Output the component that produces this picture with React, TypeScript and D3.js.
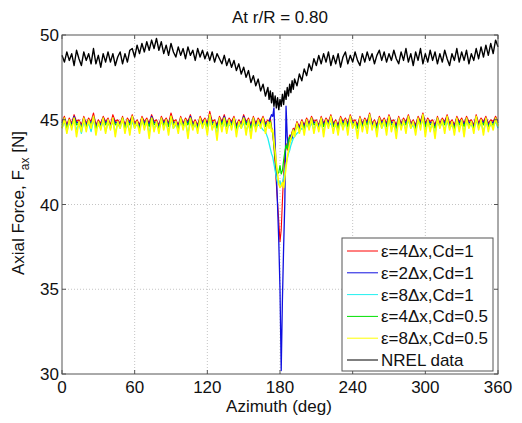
import React, { useEffect, useRef } from "react";
import * as d3 from "d3";

// azimuth grid (deg), finer around the tower passage
const azimuth = [
  0, 2, 4, 6, 8, 10, 12, 14, 16, 18,
  20, 22, 24, 26, 28, 30, 32, 34, 36, 38,
  40, 42, 44, 46, 48, 50, 52, 54, 56, 58,
  60, 62, 64, 66, 68, 70, 72, 74, 76, 78,
  80, 82, 84, 86, 88, 90, 92, 94, 96, 98,
  100, 102, 104, 106, 108, 110, 112, 114, 116, 118,
  120, 122, 124, 126, 128, 130, 132, 134, 136, 138,
  140, 142, 144, 146, 148, 150, 152, 154, 156, 158,
  160, 162, 164, 166, 168, 170,
  171, 172, 173, 174, 175, 176, 177, 178, 179, 180, 181, 182, 183, 184, 185, 186, 187, 188, 189, 190, 191,
  192, 194, 196, 198, 200, 202, 204, 206, 208, 210,
  212, 214, 216, 218, 220, 222, 224, 226, 228, 230,
  232, 234, 236, 238, 240, 242, 244, 246, 248, 250,
  252, 254, 256, 258, 260, 262, 264, 266, 268, 270,
  272, 274, 276, 278, 280, 282, 284, 286, 288, 290,
  292, 294, 296, 298, 300, 302, 304, 306, 308, 310,
  312, 314, 316, 318, 320, 322, 324, 326, 328, 330,
  332, 334, 336, 338, 340, 342, 344, 346, 348, 350,
  352, 354, 356, 358, 360,
];

// eps=4dx, Cd=1
const red = [
  44.9, 45.2, 44.7, 45.1, 44.8, 45.3, 44.9, 45.0, 44.7, 45.2,
  44.8, 45.1, 44.9, 45.4, 44.7, 45.0, 44.8, 45.2, 44.9, 45.1,
  44.7, 45.3, 44.9, 45.0, 44.8, 45.2, 44.7, 45.1, 44.9, 45.3,
  44.8, 45.0, 44.7, 45.2, 44.9, 45.1, 44.8, 45.3, 44.9, 45.0,
  44.7, 45.2, 44.9, 45.1, 44.8, 45.4, 44.9, 45.0, 44.7, 45.2,
  44.8, 45.1, 44.9, 45.3, 44.8, 45.0, 44.7, 45.2, 44.9, 45.1,
  44.8, 45.5, 44.9, 45.0, 44.7, 45.2, 44.9, 45.3, 44.8, 45.1,
  44.9, 45.2, 44.7, 45.0, 44.8, 45.3, 44.9, 45.1, 44.7, 45.2,
  44.8, 45.1, 44.9, 45.2, 44.8, 45.0,
  44.9, 45.1, 44.6, 44.2, 43.4, 42.3, 41.2, 40.1, 39.0, 37.8, 38.5, 40.2, 41.8, 42.9, 43.6, 43.2, 43.8, 44.1, 43.9, 44.3, 44.5,
  44.4, 44.9, 44.6, 45.0, 44.7, 45.1, 44.8, 45.2, 44.9, 45.0,
  44.7, 45.2, 44.8, 45.1, 44.9, 45.3, 44.8, 45.0, 44.7, 45.2,
  44.9, 45.1, 44.8, 45.3, 44.9, 45.0, 44.7, 45.2, 44.8, 45.1,
  44.9, 45.4, 44.8, 45.0, 44.7, 45.2, 44.9, 45.1, 44.8, 45.3,
  44.9, 45.0, 44.7, 45.2, 44.8, 45.1, 44.9, 45.3, 44.8, 45.0,
  44.7, 45.2, 44.9, 45.4, 44.8, 45.1, 44.9, 45.0, 44.7, 45.2,
  44.8, 45.1, 44.9, 45.3, 44.8, 45.0, 44.7, 45.2, 44.9, 45.1,
  44.8, 45.2, 44.9, 45.0, 44.7, 45.3, 44.8, 45.1, 44.9, 45.2,
  44.8, 45.0, 44.9, 45.2, 44.9,
];

// eps=2dx, Cd=1
const blue = [
  44.8, 45.1, 44.6, 45.0, 44.7, 45.2, 44.8, 44.9, 44.6, 45.1,
  44.7, 45.0, 44.8, 45.2, 44.6, 44.9, 44.7, 45.1, 44.8, 45.0,
  44.6, 45.1, 44.8, 44.9, 44.7, 45.1, 44.6, 45.0, 44.8, 45.2,
  44.7, 44.9, 44.6, 45.1, 44.8, 45.0, 44.7, 45.2, 44.8, 44.9,
  44.6, 45.1, 44.8, 45.0, 44.7, 45.2, 44.8, 44.9, 44.6, 45.1,
  44.7, 45.0, 44.8, 45.2, 44.7, 44.9, 44.6, 45.1, 44.8, 45.0,
  44.7, 45.3, 44.8, 44.9, 44.6, 45.1, 44.8, 45.2, 44.7, 45.0,
  44.8, 45.1, 44.6, 44.9, 44.7, 45.2, 44.8, 45.0, 44.6, 45.1,
  44.7, 45.0, 44.8, 45.1, 44.7, 44.9,
  44.9, 45.1, 45.3, 45.2, 45.7, 43.6, 41.8, 39.9, 37.8, 35.0, 30.2, 34.4, 37.5, 40.2, 45.8, 44.0, 43.2, 43.7, 44.1, 43.9, 44.4,
  44.3, 44.8, 44.5, 44.9, 44.6, 45.0, 44.7, 45.1, 44.8, 44.9,
  44.6, 45.1, 44.7, 45.0, 44.8, 45.2, 44.7, 44.9, 44.6, 45.1,
  44.8, 45.0, 44.7, 45.2, 44.8, 44.9, 44.6, 45.1, 44.7, 45.0,
  44.8, 45.3, 44.7, 44.9, 44.6, 45.1, 44.8, 45.0, 44.7, 45.2,
  44.8, 44.9, 44.6, 45.1, 44.7, 45.0, 44.8, 45.2, 44.7, 44.9,
  44.6, 45.1, 44.8, 45.3, 44.7, 45.0, 44.8, 44.9, 44.6, 45.1,
  44.7, 45.0, 44.8, 45.2, 44.7, 44.9, 44.6, 45.1, 44.8, 45.0,
  44.7, 45.1, 44.8, 44.9, 44.6, 45.2, 44.7, 45.0, 44.8, 45.1,
  44.7, 44.9, 44.8, 45.1, 44.8,
];

// eps=8dx, Cd=1
const cyan = [
  44.5, 44.9, 44.3, 44.8, 44.6, 45.0, 44.4, 44.8, 44.2, 44.9,
  44.5, 44.8, 44.3, 45.0, 44.4, 44.7, 44.5, 44.9, 44.3, 44.8,
  44.6, 44.9, 44.2, 44.8, 44.5, 45.0, 44.4, 44.7, 44.3, 44.9,
  44.5, 44.8, 44.4, 44.9, 44.6, 44.8, 44.2, 45.0, 44.5, 44.7,
  44.4, 44.9, 44.6, 44.8, 44.3, 45.0, 44.5, 44.7, 44.4, 44.9,
  44.6, 44.8, 44.2, 44.9, 44.5, 44.7, 44.4, 44.9, 44.6, 44.8,
  44.3, 45.0, 44.5, 44.7, 44.2, 44.9, 44.5, 44.8, 44.4, 44.7,
  44.6, 44.9, 44.3, 44.7, 44.5, 44.8, 44.4, 44.7, 44.2, 44.8,
  44.5, 44.7, 44.6, 44.4, 44.3, 43.9,
  43.6, 43.3, 43.0, 42.8, 42.4, 42.0, 41.6, 41.3, 41.2, 41.4, 41.1, 41.3, 41.6, 42.0, 42.4, 42.7, 43.0, 43.2, 43.5, 43.7, 43.9,
  44.0, 44.2, 44.3, 44.5, 44.4, 44.7, 44.5, 44.8, 44.4, 44.9,
  44.5, 44.8, 44.3, 44.9, 44.6, 44.8, 44.4, 44.7, 44.3, 44.9,
  44.5, 44.8, 44.4, 45.0, 44.6, 44.7, 44.2, 44.9, 44.5, 44.8,
  44.4, 45.0, 44.6, 44.7, 44.3, 44.9, 44.5, 44.8, 44.4, 44.9,
  44.5, 44.7, 44.3, 44.9, 44.6, 44.8, 44.4, 45.0, 44.5, 44.7,
  44.3, 44.9, 44.6, 45.0, 44.4, 44.8, 44.5, 44.7, 44.2, 44.9,
  44.6, 44.8, 44.4, 44.9, 44.5, 44.7, 44.3, 44.9, 44.5, 44.8,
  44.3, 44.9, 44.6, 44.7, 44.4, 45.0, 44.5, 44.8, 44.3, 44.9,
  44.5, 44.7, 44.6, 44.9, 44.5,
];

// eps=4dx, Cd=0.5
const green = [
  44.7, 45.0, 44.5, 44.9, 44.6, 45.1, 44.7, 44.8, 44.5, 45.0,
  44.6, 44.9, 44.7, 45.1, 44.5, 44.8, 44.6, 45.0, 44.7, 44.9,
  44.5, 45.0, 44.7, 44.8, 44.6, 45.1, 44.5, 44.9, 44.7, 45.1,
  44.6, 44.8, 44.5, 45.0, 44.7, 44.9, 44.6, 45.1, 44.7, 44.8,
  44.5, 45.0, 44.7, 44.9, 44.6, 45.2, 44.7, 44.8, 44.5, 45.0,
  44.6, 44.9, 44.7, 45.1, 44.6, 44.8, 44.5, 45.0, 44.7, 44.9,
  44.6, 45.2, 44.7, 44.8, 44.5, 45.0, 44.7, 45.1, 44.6, 44.9,
  44.7, 45.0, 44.5, 44.8, 44.6, 45.1, 44.7, 44.9, 44.5, 45.0,
  44.6, 44.9, 44.7, 45.0, 44.6, 44.8,
  44.7, 44.9, 44.5, 44.2, 43.5, 42.8, 42.2, 41.8, 41.9, 42.3, 41.8, 42.0, 42.6, 43.1, 43.5, 43.3, 43.8, 44.0, 43.8, 44.2, 44.4,
  44.2, 44.7, 44.4, 44.8, 44.5, 44.9, 44.6, 45.0, 44.7, 44.8,
  44.5, 45.0, 44.6, 44.9, 44.7, 45.1, 44.6, 44.8, 44.5, 45.0,
  44.7, 44.9, 44.6, 45.1, 44.7, 44.8, 44.5, 45.0, 44.6, 44.9,
  44.7, 45.2, 44.6, 44.8, 44.5, 45.0, 44.7, 44.9, 44.6, 45.1,
  44.7, 44.8, 44.5, 45.0, 44.6, 44.9, 44.7, 45.1, 44.6, 44.8,
  44.5, 45.0, 44.7, 45.2, 44.6, 44.9, 44.7, 44.8, 44.5, 45.0,
  44.6, 44.9, 44.7, 45.1, 44.6, 44.8, 44.5, 45.0, 44.7, 44.9,
  44.6, 45.0, 44.7, 44.8, 44.5, 45.1, 44.6, 44.9, 44.7, 45.0,
  44.6, 44.8, 44.7, 45.0, 44.7,
];

// eps=8dx, Cd=0.5
const yellow = [
  44.5, 45.1, 44.2, 45.0, 44.4, 45.1, 44.0, 44.9, 44.3, 45.1,
  44.3, 45.0, 44.5, 45.2, 44.1, 44.9, 44.4, 45.1, 44.2, 45.0,
  44.4, 45.1, 44.0, 44.9, 44.5, 45.1, 44.2, 45.0, 44.1, 45.2,
  44.5, 44.9, 44.2, 45.1, 44.4, 45.0, 43.9, 45.1, 44.3, 44.9,
  44.2, 45.1, 44.4, 45.0, 44.1, 45.2, 44.5, 44.9, 44.2, 45.1,
  44.4, 45.0, 43.9, 45.1, 44.4, 44.9, 44.2, 45.1, 44.5, 45.0,
  44.1, 45.3, 44.4, 44.9, 43.8, 45.1, 44.3, 45.1, 44.2, 45.0,
  44.4, 45.1, 44.0, 44.9, 44.5, 45.1, 44.1, 45.0, 43.9, 45.1,
  44.3, 45.0, 44.5, 45.1, 44.2, 44.9,
  44.5, 44.8, 44.3, 44.4, 43.7, 43.1, 42.4, 41.8, 41.2, 41.0, 41.1, 41.3, 41.0, 41.6, 42.2, 42.8, 43.2, 43.6, 43.9, 44.1, 44.4,
  44.0, 44.8, 44.2, 44.9, 44.1, 45.0, 44.4, 45.1, 44.2, 44.9,
  44.3, 45.1, 44.0, 45.0, 44.5, 45.2, 44.2, 44.9, 44.1, 45.1,
  44.4, 45.0, 44.1, 45.2, 44.5, 44.9, 43.9, 45.1, 44.3, 45.0,
  44.2, 45.3, 44.4, 44.9, 44.0, 45.1, 44.5, 45.0, 44.1, 45.2,
  44.3, 44.9, 43.9, 45.1, 44.4, 45.0, 44.2, 45.2, 44.5, 44.9,
  44.1, 45.1, 44.4, 45.3, 44.0, 45.0, 44.3, 44.9, 43.9, 45.1,
  44.5, 45.0, 44.2, 45.2, 44.4, 44.9, 44.1, 45.1, 44.3, 45.0,
  44.0, 45.1, 44.5, 44.9, 44.2, 45.2, 44.4, 45.0, 44.1, 45.1,
  44.3, 44.9, 44.4, 45.1, 44.6,
];

// NREL measurement
const nrel = [
  48.8, 48.4, 49.0, 48.5, 48.9, 48.2, 49.1, 48.6, 48.2, 49.0,
  48.5, 48.9, 48.3, 49.2, 48.3, 48.8, 48.1, 48.9, 48.4, 49.0,
  48.4, 48.9, 48.2, 48.7, 49.0, 48.3, 48.9, 48.4, 49.1, 49.2,
  48.7, 49.4, 48.9, 49.5, 49.0, 49.6, 49.1, 49.7, 49.2, 49.8,
  49.1, 49.6, 48.9, 49.4, 48.8, 49.5, 49.0, 48.7, 49.3, 48.8,
  49.2, 48.6, 49.3, 48.8, 49.1, 48.5, 49.2, 48.7, 49.1, 48.6,
  49.0, 48.5, 49.0, 48.4, 48.9, 48.6, 48.3, 48.8, 48.2, 48.6,
  48.1, 48.5, 47.9, 48.3, 47.7, 48.1, 47.5, 47.9, 47.2, 47.6,
  47.0, 47.4, 46.7, 47.1, 46.4, 46.9,
  46.2, 46.7, 46.0, 46.6, 45.8, 46.4, 45.7, 46.3, 45.6, 46.2, 45.8, 46.5, 45.9, 46.7, 46.2, 46.9, 46.4, 47.1, 46.6, 47.3, 46.8,
  47.4, 47.0, 47.7, 47.3, 48.0, 47.6, 48.3, 47.9, 48.6, 48.2,
  48.8, 48.3, 48.9, 48.4, 49.0, 48.2, 48.8, 48.3, 48.9, 48.1,
  48.7, 49.0, 48.3, 48.8, 48.4, 49.0, 48.5, 48.2, 48.9, 48.4,
  49.0, 48.5, 48.9, 48.3, 48.8, 49.1, 48.5, 49.0, 48.4, 48.9,
  48.5, 49.1, 48.6, 48.3, 49.0, 48.5, 49.2, 48.4, 48.9, 48.2,
  49.0, 48.5, 49.2, 48.3, 48.9, 48.4, 49.1, 48.5, 49.0, 48.3,
  48.9, 48.4, 49.1, 48.6, 48.2, 48.9, 48.5, 49.2, 48.4, 49.0,
  48.5, 49.1, 48.3, 48.9, 48.5, 49.2, 48.6, 49.3, 48.7, 49.4,
  48.8, 49.5, 48.9, 49.7, 49.3,
];

const legendLabels = [
  "ε=4Δx,Cd=1",
  "ε=2Δx,Cd=1",
  "ε=8Δx,Cd=1",
  "ε=4Δx,Cd=0.5",
  "ε=8Δx,Cd=0.5",
  "NREL data",
];

const xTicks = [0, 60, 120, 180, 240, 300, 360];
const yTicks = [30, 35, 40, 45, 50];

export default function App() {
  const ref = useRef<SVGSVGElement>(null);

  useEffect(() => {
    document.body.style.margin = "0";
    const width = 522;
    const height = 423;
    const margin = { top: 35, right: 24, bottom: 49, left: 62 };
    const font = "'Liberation Sans', Arial, sans-serif";

    const svg = d3.select(ref.current);
    svg.selectAll("*").remove();

    const x = d3.scaleLinear().domain([0, 360]).range([margin.left, width - margin.right]);
    const y = d3.scaleLinear().domain([30, 50]).range([height - margin.bottom, margin.top]);

    const x0 = x.range()[0], x1 = x.range()[1];
    const y0 = y.range()[0], y1 = y.range()[1];

    // dotted grid
    const grid = svg.append("g")
      .attr("stroke", "#c4c4c4")
      .attr("stroke-width", 1)
      .attr("stroke-dasharray", "1,2");
    grid.selectAll("line.gx")
      .data(xTicks.slice(1, -1))
      .enter().append("line")
      .attr("x1", (d) => x(d)).attr("x2", (d) => x(d))
      .attr("y1", y0).attr("y2", y1);
    grid.selectAll("line.gy")
      .data(yTicks.slice(1, -1))
      .enter().append("line")
      .attr("x1", x0).attr("x2", x1)
      .attr("y1", (d) => y(d)).attr("y2", (d) => y(d));

    // series, drawn in legend order
    const series = [
      { values: red, color: "#ff0000", w: 1.1 },
      { values: blue, color: "#1010e0", w: 1.3 },
      { values: cyan, color: "#20f0f0", w: 1.3 },
      { values: green, color: "#00e000", w: 1.2 },
      { values: yellow, color: "#ffff00", w: 1.6 },
      { values: nrel, color: "#000000", w: 1.4 },
    ];

    const line = d3.line<number>()
      .x((d, i) => x(azimuth[i]))
      .y((d) => y(d));

    svg.append("g")
      .selectAll("path")
      .data(series)
      .enter().append("path")
      .attr("d", (d) => line(d.values))
      .attr("fill", "none")
      .attr("stroke", (d) => d.color)
      .attr("stroke-width", (d) => d.w)
      .attr("stroke-linejoin", "round");

    // axes box and ticks
    const axisColor = "#555";
    svg.append("rect")
      .attr("x", x0).attr("y", y1)
      .attr("width", x1 - x0).attr("height", y0 - y1)
      .attr("fill", "none")
      .attr("stroke", axisColor)
      .attr("stroke-width", 1);

    const ticks = svg.append("g").attr("stroke", axisColor).attr("stroke-width", 1);
    const tl = 4;
    xTicks.forEach((t) => {
      ticks.append("line").attr("x1", x(t)).attr("x2", x(t)).attr("y1", y0).attr("y2", y0 - tl);
      ticks.append("line").attr("x1", x(t)).attr("x2", x(t)).attr("y1", y1).attr("y2", y1 + tl);
    });
    yTicks.forEach((t) => {
      ticks.append("line").attr("x1", x0).attr("x2", x0 + tl).attr("y1", y(t)).attr("y2", y(t));
      ticks.append("line").attr("x1", x1).attr("x2", x1 - tl).attr("y1", y(t)).attr("y2", y(t));
    });

    // tick labels
    svg.append("g")
      .selectAll("text")
      .data(xTicks)
      .enter().append("text")
      .attr("x", (d) => x(d))
      .attr("y", 393)
      .attr("text-anchor", "middle")
      .style("font-family", font)
      .style("font-size", "17px")
      .attr("fill", "#111")
      .text((d) => d);

    svg.append("g")
      .selectAll("text")
      .data(yTicks)
      .enter().append("text")
      .attr("x", x0 - 3)
      .attr("y", (d) => y(d) + 6)
      .attr("text-anchor", "end")
      .style("font-family", font)
      .style("font-size", "17px")
      .attr("fill", "#111")
      .text((d) => d);

    // title and axis labels
    svg.append("text")
      .attr("x", (x0 + x1) / 2)
      .attr("y", 23)
      .attr("text-anchor", "middle")
      .style("font-family", font)
      .style("font-size", "17px")
      .attr("fill", "#111")
      .text("At r/R = 0.80");

    svg.append("text")
      .attr("x", 279)
      .attr("y", 412)
      .attr("text-anchor", "middle")
      .style("font-family", font)
      .style("font-size", "17px")
      .attr("fill", "#111")
      .text("Azimuth (deg)");

    const yl = svg.append("text")
      .attr("transform", "translate(24," + 203 + ") rotate(-90)")
      .attr("text-anchor", "middle")
      .style("font-family", font)
      .style("font-size", "17px")
      .attr("fill", "#111");
    yl.append("tspan").text("Axial Force, F");
    yl.append("tspan").attr("dy", 5).style("font-size", "12px").text("ax");
    yl.append("tspan").attr("dy", -5).text(" [N]");

    // legend
    const lg = svg.append("g");
    const lx = 342, ly = 238, lw = 151, lh = 133;
    lg.append("rect")
      .attr("x", lx).attr("y", ly)
      .attr("width", lw).attr("height", lh)
      .attr("fill", "white")
      .attr("stroke", axisColor)
      .attr("stroke-width", 1);
    const rows = lg.selectAll("g.row")
      .data(series)
      .enter().append("g")
      .attr("transform", (d, i) => "translate(0," + (ly + 13 + i * 21.8) + ")");
    rows.append("line")
      .attr("x1", lx + 5).attr("x2", lx + 36)
      .attr("y1", 0).attr("y2", 0)
      .attr("stroke", (d) => d.color)
      .attr("stroke-width", 1);
    rows.append("text")
      .attr("x", lx + 39)
      .attr("y", 6)
      .style("font-family", font)
      .style("font-size", "17px")
      .attr("fill", "#111")
      .text((d, i) => legendLabels[i]);
  }, []);

  return <svg ref={ref} width={522} height={423} style={{ display: "block", background: "white" }} />;
}
